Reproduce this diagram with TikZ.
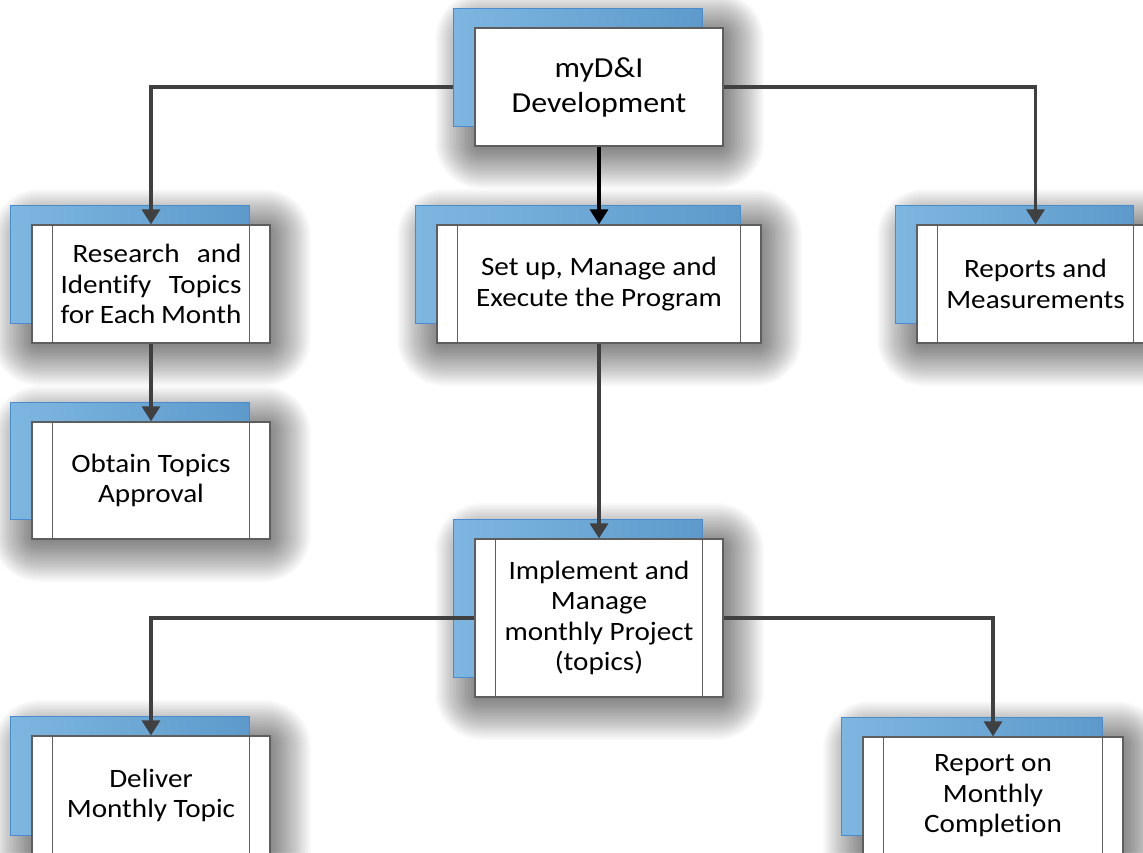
\documentclass[tikz,border=0pt]{standalone}
\usepackage{fontspec}
\setmainfont{Carlito}[FakeStretch=1.1, Ligatures=NoCommon]
\usetikzlibrary{arrows.meta}
\pgfdeclarelayer{shadowlayer}
\pgfdeclarelayer{backlayer}
\pgfdeclarelayer{connlayer}
\pgfdeclarelayer{toplayer}
\pgfsetlayers{shadowlayer,backlayer,connlayer,toplayer,main}
\definecolor{blueL}{HTML}{7DB6E0}
\definecolor{blueD}{HTML}{5D9ACB}
\definecolor{blueE}{HTML}{4A8CCB}
\definecolor{boxedge}{HTML}{5E5E5E}
\definecolor{conncol}{HTML}{404040}
\tikzset{
  backrect/.style={left color=blueL, right color=blueD, draw=blueE, line width=0.8pt},
  wbox/.style={draw=boxedge, fill=white, line width=1.3pt, inner sep=0pt, align=center,
    font=\fontsize{26.5}{30.5}\selectfont},
  wedge/.style={draw=boxedge, line width=1.4pt},
  conn/.style={draw=conncol, line width=3.2pt, -{Triangle[width=18pt,length=15pt]}},
  connb/.style={draw=black, line width=3.4pt, -{Triangle[width=18pt,length=15pt]}},
  shadelayer/.style={fill=black, opacity=0.02}
}
% #1 name, #2 L, #3 T, #4 R, #5 B, #6 layer for back rect, #7 node options, #8 text
\newcommand\mkbox[8]{%
  \begin{pgfonlayer}{shadowlayer}
    \foreach \i in {-8,...,22}{
      \fill[shadelayer, rounded corners={max(1,\i*1.6+12)}]
        (#2-22+15-\i*1.5,#3-20+17-\i*1.5) rectangle (#4+8+\i*1.5,#5+10+\i*1.5);
    }
  \end{pgfonlayer}
  \begin{pgfonlayer}{#6}
    \draw[backrect] (#2-22,#3-20) rectangle (#4-21,#5-20);
  \end{pgfonlayer}
  \node[wbox, minimum width={#4-#2}, minimum height={#5-#3}, #7] (#1) at ({(#2+#4)/2},{(#3+#5)/2}) {#8};
}
\newcommand\innerlines[1]{%
  \draw[wedge] ([xshift=21pt]#1.north west) -- ([xshift=21pt]#1.south west);
  \draw[wedge] ([xshift=-21pt]#1.north east) -- ([xshift=-21pt]#1.south east);
}
\begin{document}
\begin{tikzpicture}[x=1pt,y=-1pt]
\useasboundingbox (0,0) rectangle (1143,852);
\begin{pgfonlayer}{shadowlayer}
  \fill[white] (0,0) rectangle (1143,852);
\end{pgfonlayer}

\mkbox{top}{475}{28}{723}{146}{toplayer}{font=\fontsize{29}{35}\selectfont}{myD\&I\\Development}
\mkbox{res}{32}{225}{270}{343}{backlayer}{text width=181pt, align=left}{\hspace*{12pt}Research\hfill and\\Identify\hfill Topics\\for\hfill Each\hfill Month}
\innerlines{res}
\mkbox{setup}{437}{225}{761}{343}{backlayer}{}{Set up, Manage and\\Execute the Program}
\innerlines{setup}
\mkbox{rep}{917}{225}{1154}{343}{backlayer}{}{Reports and\\Measurements}
\innerlines{rep}
\mkbox{obt}{32}{422}{270}{539}{backlayer}{}{Obtain Topics\\Approval}
\innerlines{obt}
\mkbox{impl}{475}{539}{723}{697}{backlayer}{}{Implement and\\Manage\\monthly Project\\(topics)}
\innerlines{impl}
\mkbox{del}{32}{736}{270}{855}{backlayer}{}{Deliver\\Monthly Topic}
\innerlines{del}
\mkbox{ron}{863}{737}{1123}{855}{backlayer}{}{Report on\\Monthly\\Completion}
\innerlines{ron}

\begin{pgfonlayer}{connlayer}
  \draw[conn] (top.west) -| (res.north);
  \draw[conn] (top.east) -| (rep.north);
  \draw[connb] (top.south) -- (setup.north);
  \draw[conn] (res.south) -- (obt.north);
  \draw[conn] (setup.south) -- (impl.north);
  \draw[conn] (impl.west) -| (del.north);
  \draw[conn] (impl.east) -| (ron.north);
\end{pgfonlayer}
\end{tikzpicture}
\end{document}
